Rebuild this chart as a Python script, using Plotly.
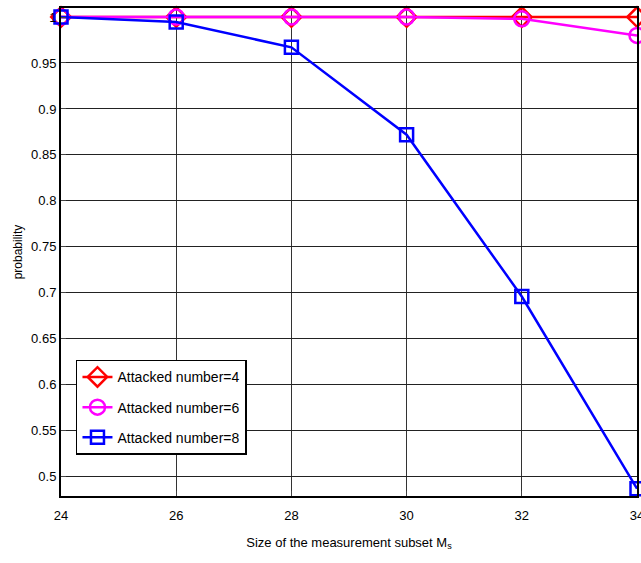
import plotly.graph_objects as go

x_vals = [24, 26, 28, 30, 32, 34]
attacked4 = [1.0, 1.0, 1.0, 1.0, 1.0, 1.0]
attacked6 = [1.0, 1.0, 1.0, 1.0, 0.998, 0.980]
attacked8 = [1.0, 0.9946, 0.967, 0.872, 0.696, 0.487]
names = ["Attacked number=4", "Attacked number=6", "Attacked number=8"]
y_ticks = [0.5, 0.55, 0.6, 0.65, 0.7, 0.75, 0.8, 0.85, 0.9, 0.95, 1.0]
y_tick_text = ["0.5", "0.55", "0.6", "0.65", "0.7", "0.75", "0.8", "0.85", "0.9", "0.95", "1"]
x_ticks = [24, 26, 28, 30, 32, 34]

FONT = "Liberation Sans, Arial, sans-serif"

fig = go.Figure()
styles = [
    (attacked4, "#ff0000", "diamond-open", 15),
    (attacked6, "#ff00ff", "circle-open", 15),
    (attacked8, "#0000ff", "square-open", 13),
]
for i, ((ys, color, sym, size), name) in enumerate(zip(styles, names)):
    fig.add_trace(go.Scatter(
        x=x_vals, y=ys, name=name, mode="lines+markers",
        legendgroup=f"g{i}",
        line=dict(color=color, width=2.5),
        marker=dict(symbol=sym, size=size, color=color, line=dict(width=2.5, color=color)),
        cliponaxis=False,
    ))

fig.update_layout(
    width=641, height=563,
    margin=dict(l=61, r=4, t=8, b=67),
    paper_bgcolor="white", plot_bgcolor="white",
    font=dict(family=FONT, size=13, color="black"),
    showlegend=True,
    legend=dict(
        x=0.026, y=0.279, xanchor="left", yanchor="top",
        bgcolor="white", bordercolor="black", borderwidth=1.5,
        font=dict(family=FONT, size=14, color="black"),
        tracegroupgap=9,
    ),
    xaxis=dict(
        range=[24, 34], tickvals=x_ticks, ticks="inside", ticklen=5,
        showgrid=True, gridcolor="#333", gridwidth=1,
        showline=True, linecolor="black", linewidth=2, mirror=True,
        zeroline=False, automargin=False,
        ticklabeloverflow="allow", ticklabelstandoff=6,
        title=dict(text="Size of the measurement subset M<sub>s</sub>", font=dict(size=13), standoff=16),
        tickfont=dict(size=13),
    ),
    yaxis=dict(
        range=[0.479, 1.0098], tickvals=y_ticks, ticktext=y_tick_text,
        ticks="inside", ticklen=5,
        showgrid=True, gridcolor="#222", gridwidth=1.3,
        showline=True, linecolor="black", linewidth=2, mirror=True,
        zeroline=False, automargin=False,
        title=dict(text="probability", font=dict(size=12), standoff=6),
        tickfont=dict(size=13),
    ),
)

fig.write_html(
    "out.html",
    config={"displayModeBar": False},
    post_script="document.body.style.margin='0';document.body.style.overflow='hidden';",
)
